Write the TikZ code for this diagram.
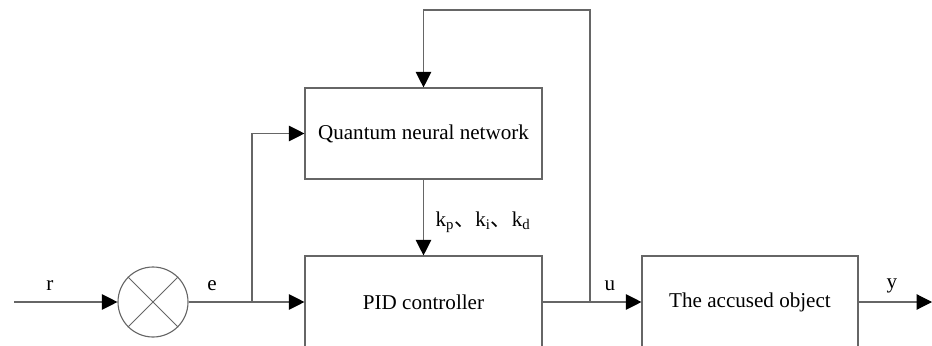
\documentclass[tikz,border=0pt]{standalone}
\usepackage{fontspec}
\setmainfont{Liberation Serif}
\newfontfamily\cjk{Noto Sans CJK SC}
\usetikzlibrary{arrows.meta,positioning}
\definecolor{LineGray}{HTML}{666666}
\begin{document}
\begin{tikzpicture}[font=\fontsize{15}{18}\selectfont,
  block/.style={draw=LineGray,line width=0.8pt,minimum width=5.925cm,minimum height=2.3cm},
  sig/.style={draw=LineGray,line width=0.8pt,-{Triangle[length=11pt,width=11pt,fill=black,color=black]}},
  wire/.style={draw=LineGray,line width=0.8pt}]
\useasboundingbox (0,0) rectangle (23.3,8.625);
\clip (0,0) rectangle (23.3,8.625);
% blocks
\node[block,minimum height=2.275cm] (qnn) at (10.5875,5.2875) {Quantum neural network};
\node[block] (pid) at (10.5875,1.075) {PID controller};
\node[block,minimum width=5.4cm] (plant) at (18.75,1.075) {The accused object};
\node[circle,draw=LineGray,line width=0.8pt,minimum size=1.75cm,inner sep=0pt] (sum) at (3.825,1.075) {};
\draw[wire,line width=0.6pt] (sum.north west) -- (sum.south east);
\draw[wire,line width=0.6pt] (sum.north east) -- (sum.south west);
% points
\coordinate (rin) at (0.35,1.075);
\coordinate (ej) at (6.3,1.075);
\coordinate (uj) at (14.75,1.075);
\coordinate (yout) at (23.3,1.075);
\coordinate (ftop) at (14.75,8.375);
% connectors
\draw[sig] (rin) -- (sum.west);
\draw[wire] (sum.east) -- (ej);
\draw[sig] (ej) -- (pid.west);
\draw[sig] (ej) |- (qnn.west);
\draw[sig] (qnn.south) -- (pid.north);
\draw[wire] (pid.east) -- (uj);
\draw[sig] (uj) -- (plant.west);
\draw[sig] (uj) -- (ftop) -| (qnn.north);
\draw[sig] (plant.east) -- (yout);
% labels
\node (rlab) at (1.25,1.475) {r};
\node (elab) at (5.3,1.475) {e};
\node (ulab) at (15.25,1.475) {u};
\node (ylab) at (22.3,1.475) {y};
\node (klab) at (12.075,3.075) {k\textsubscript{p}{\cjk 、}k\textsubscript{i}{\cjk 、}k\textsubscript{d}};
\end{tikzpicture}
\end{document}
